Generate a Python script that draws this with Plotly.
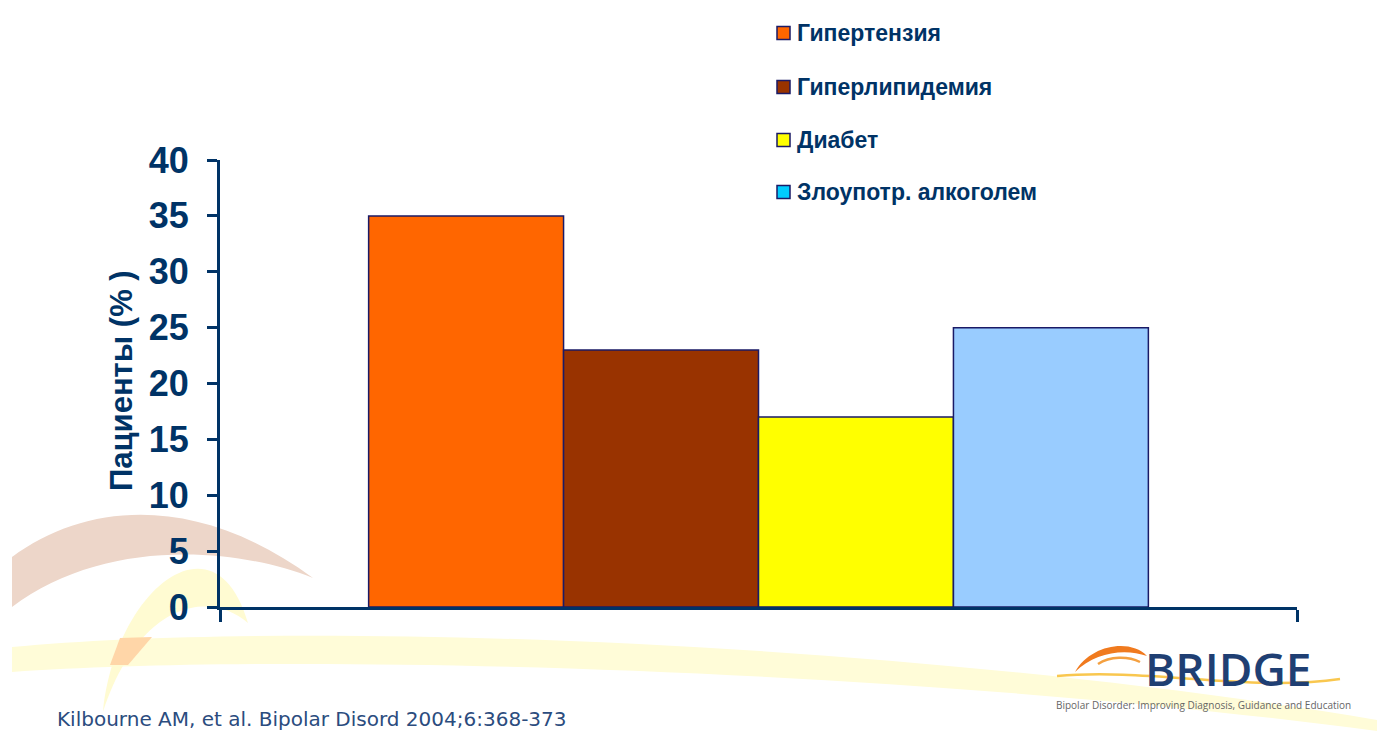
import plotly.graph_objects as go

# ---- data ----
categories = ["Гипертензия", "Гиперлипидемия", "Диабет", "Злоупотр. алкоголем"]
values = [35, 23, 17, 25]
bar_colors = ["#FF6600", "#993300", "#FFFF00", "#99CCFF"]
legend_colors = ["#FF6600", "#993300", "#FFFF00", "#00CCFF"]
y_title = "Пациенты (% )"
citation = "Kilbourne AM, et al. Bipolar Disord 2004;6:368-373"
logo_text = "BRIDGE"
logo_tagline = "Bipolar Disorder: Improving Diagnosis, Guidance and Education"

W, H = 1377, 731
ML, MR, MT, MB = 220, 80, 160, 124
PW, PH = W - ML - MR, H - MT - MB
NAVY = "#003366"


def px(x):
    return (x - ML) / PW


def py(y):
    return (H - MB - y) / PH


def path(cmds):
    out = []
    for c in cmds:
        if isinstance(c, str):
            out.append(c)
        else:
            out.append(f"{px(c[0]):.5f},{py(c[1]):.5f}")
    return " ".join(out)


fig = go.Figure()
for name, v, col in zip(categories, values, bar_colors):
    fig.add_trace(go.Bar(
        x=["all"], y=[v], name=name, showlegend=False,
        marker=dict(color=col, line=dict(color="#1a1a66", width=1.5)),
    ))

shapes = []
# decorative swooshes
shapes.append(dict(type="path", xref="paper", yref="paper", layer="below",
                   path=path(["M", (12, 557), "C", (90, 500), (200, 495), (313, 578),
                              "C", (230, 545), (100, 540), (12, 607), "Z"]),
                   fillcolor="#EDD6C9", line=dict(width=0)))
shapes.append(dict(type="path", xref="paper", yref="paper", layer="below",
                   path=path(["M", (12, 647), "C", (300, 620), (900, 640), (1377, 720),
                              "L", (1377, 731), "C", (900, 668), (300, 652), (12, 672), "Z"]),
                   fillcolor="#FFFCD8", line=dict(width=0)))
shapes.append(dict(type="path", xref="paper", yref="paper", layer="below",
                   path=path(["M", (103, 712), "C", (115, 590), (215, 510), (248, 623),
                              "C", (210, 590), (140, 600), (103, 712), "Z"]),
                   fillcolor="#FFFBD2", line=dict(width=0)))
shapes.append(dict(type="path", xref="paper", yref="paper", layer="below",
                   path=path(["M", (110, 665), "L", (120, 638), "L", (152, 637),
                              "L", (128, 665), "Z"]),
                   fillcolor="#FFD6A8", line=dict(width=0)))
# logo swooshes
shapes.append(dict(type="path", xref="paper", yref="paper",
                   path=path(["M", (1057, 676), "C", (1150, 668), (1250, 692), (1340, 679)]),
                   line=dict(color="#F9C74F", width=2.5)))
shapes.append(dict(type="path", xref="paper", yref="paper",
                   path=path(["M", (1075, 672), "C", (1090, 645), (1130, 638), (1147, 656),
                              "C", (1125, 648), (1095, 652), (1075, 672), "Z"]),
                   fillcolor="#F07A1E", line=dict(width=0)))
shapes.append(dict(type="path", xref="paper", yref="paper",
                   path=path(["M", (1098, 664), "C", (1110, 656), (1128, 656), (1140, 662)]),
                   line=dict(color="#F4A040", width=2.5)))

annotations = []
# manual legend
leg_y = [33, 87, 140, 192]
for name, col, yy in zip(categories, legend_colors, leg_y):
    shapes.append(dict(type="rect", xref="paper", yref="paper",
                       x0=px(777), x1=px(790), y0=py(yy + 6.5), y1=py(yy - 6.5),
                       fillcolor=col, line=dict(color="#1a1a66", width=1.5)))
    annotations.append(dict(x=px(795), y=py(yy), xref="paper", yref="paper",
                            text=name, showarrow=False, xanchor="left", yanchor="middle",
                            font=dict(family="Liberation Sans", size=23, color=NAVY,
                                      weight="bold")))

annotations.append(dict(x=px(121), y=py(381), xref="paper", yref="paper", text=y_title,
                        textangle=-90, showarrow=False, xanchor="center", yanchor="middle",
                        font=dict(family="Liberation Sans", size=31, color=NAVY,
                                  weight="bold")))
annotations.append(dict(x=px(55), y=py(719), xref="paper", yref="paper", text=citation,
                        showarrow=False, xanchor="left", yanchor="middle",
                        font=dict(family="DejaVu Sans", size=20, color="#2B4C7E")))
annotations.append(dict(x=px(1228), y=py(668), xref="paper", yref="paper", text=logo_text,
                        showarrow=False, xanchor="center", yanchor="middle",
                        font=dict(family="Open Sans", size=46, color="#1F3F73",
                                  weight=600)))
annotations.append(dict(x=px(1203), y=py(705), xref="paper", yref="paper",
                        text=logo_tagline, showarrow=False, xanchor="center",
                        yanchor="middle",
                        font=dict(family="Open Sans", size=10, color="#666666")))

fig.update_layout(
    width=W, height=H,
    margin=dict(l=ML, r=MR, t=MT, b=MB),
    paper_bgcolor="white", plot_bgcolor="rgba(0,0,0,0)",
    barmode="group", bargap=0.276, bargroupgap=0,
    showlegend=False,
    shapes=shapes, annotations=annotations,
    xaxis=dict(type="category", range=[-0.5, 0.5], showticklabels=False,
               ticks="outside", tickson="boundaries", ticklen=12, tickwidth=3,
               tickcolor=NAVY, showline=True, linewidth=3, linecolor=NAVY,
               showgrid=False, zeroline=False, fixedrange=True),
    yaxis=dict(range=[0, 40], dtick=5, tick0=0, ticks="outside", ticklen=10,
               tickwidth=3, tickcolor=NAVY, showline=True, linewidth=3,
               linecolor=NAVY, showgrid=False, zeroline=False,
               ticklabelstandoff=11,
               tickfont=dict(family="Liberation Sans", size=36, color=NAVY,
                             weight="bold")),
)

fig.write_html("out.html", config={"displayModeBar": False})
